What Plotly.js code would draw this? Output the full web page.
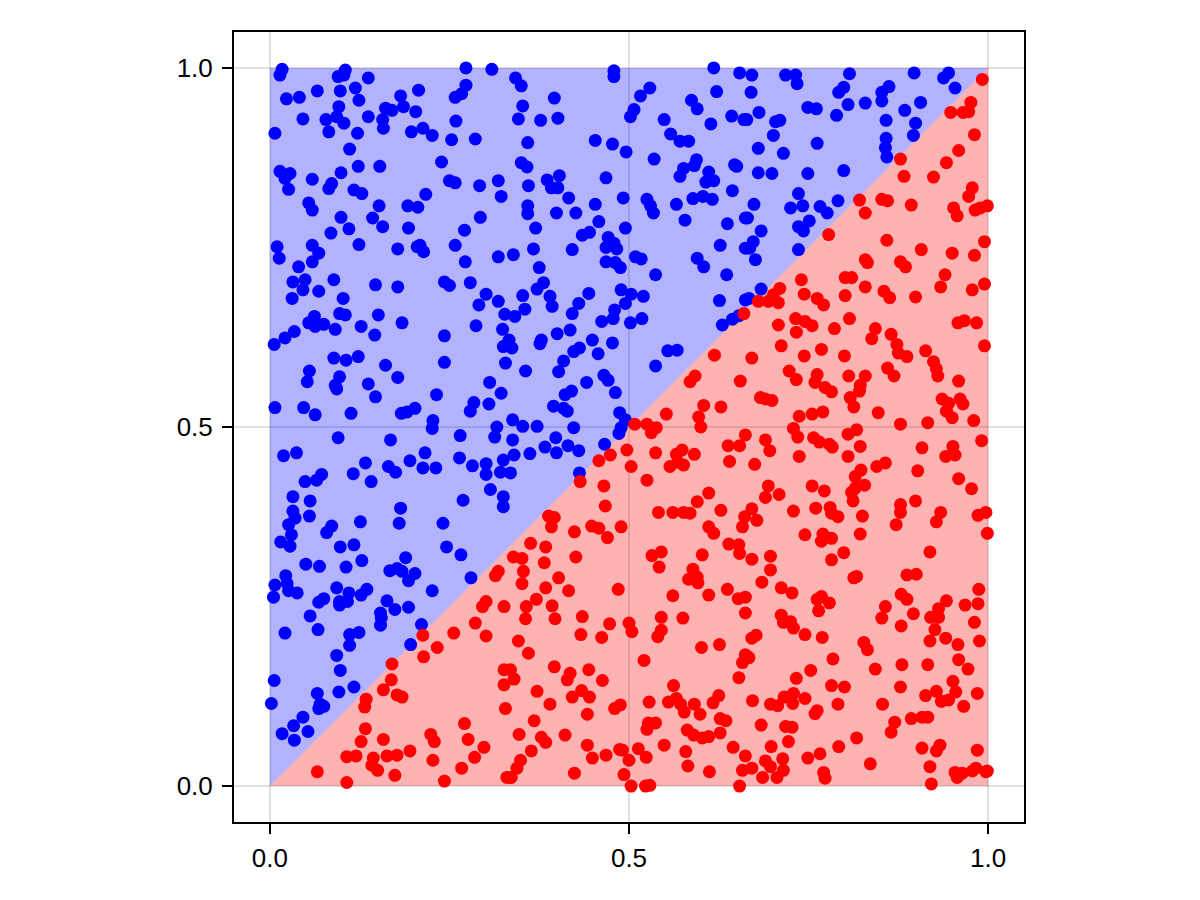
<!DOCTYPE html>
<html>
<head>
<meta charset="utf-8">
<script src="https://cdn.plot.ly/plotly-3.0.1.min.js"></script>
<style>html,body{margin:0;padding:0;background:#fff;}#chart{width:1200px;height:900px;}</style>
</head>
<body>
<div id="chart"></div>
<script>
// Regions (data coordinates of the two triangles)
const upperRegionX = [0, 0, 1];
const upperRegionY = [0, 1, 1];
const lowerRegionX = [0, 1, 1];
const lowerRegionY = [0, 0, 1];

// Tick values / labels
const tickVals = [0, 0.5, 1];
const tickText = ["0.0", "0.5", "1.0"];

// Points above the diagonal (blue)
const bluePts = [
[.017,.998],[.014,.990],[.105,.997],[.095,.988],[.103,.990],[.137,.986],[.273,1.0],[.309,.998],[.066,.968],[.098,.968],
[.119,.972],[.023,.957],[.041,.959],[.124,.955],[.182,.961],[.207,.969],[.273,.976],[.267,.964],[.258,.959],[.096,.946],
[.161,.944],[.170,.941],[.186,.946],[.203,.939],[.046,.929],[.078,.928],[.093,.932],[.103,.923],[.137,.932],[.157,.928],
[.158,.916],[.007,.909],[.082,.911],[.122,.909],[.197,.911],[.213,.916],[.226,.906],[.259,.926],[.253,.900],[.286,.901],
[.111,.887],[.239,.869],[.014,.856],[.028,.853],[.021,.846],[.026,.831],[.059,.845],[.099,.854],[.123,.863],[.153,.863],
[.086,.839],[.082,.832],[.117,.830],[.128,.825],[.250,.843],[.258,.840],[.292,.836],[.318,.843],[.322,.821],[.217,.824],
[.054,.812],[.059,.802],[.152,.808],[.192,.808],[.206,.806],[.099,.792],[.143,.791],[.157,.779],[.110,.776],[.193,.777],
[.293,.792],[.085,.770],[.271,.774],[.010,.751],[.013,.735],[.059,.753],[.068,.742],[.059,.730],[.124,.754],[.178,.748],
[.209,.753],[.214,.744],[.205,.751],[.258,.753],[.272,.730],[.318,.737],[.040,.723],[.032,.702],[.049,.705],[.046,.691],
[.068,.689],[.089,.705],[.147,.698],[.178,.695],[.243,.702],[.250,.697],[.279,.701],[.301,.685],[.031,.679],[.102,.679],
[.318,.675],[.291,.670],
[.479,.996],[.479,.988],[.618,1.0],[.654,.993],[.342,.986],[.350,.975],[.396,.958],[.352,.947],[.346,.929],[.377,.927],
[.401,.930],[.529,.972],[.516,.961],[.507,.942],[.502,.932],[.587,.955],[.595,.943],[.622,.967],[.643,.933],[.660,.928],
[.614,.922],[.549,.928],[.558,.908],[.571,.898],[.583,.898],[.359,.896],[.453,.899],[.477,.894],[.496,.883],[.535,.873],
[.350,.868],[.358,.862],[.571,.849],[.576,.860],[.591,.864],[.594,.872],[.611,.855],[.607,.841],[.618,.843],[.647,.865],
[.650,.863],[.644,.829],[.468,.847],[.403,.850],[.386,.844],[.392,.833],[.401,.833],[.360,.836],[.416,.819],[.359,.808],
[.359,.797],[.399,.798],[.426,.798],[.453,.810],[.492,.819],[.525,.817],[.530,.808],[.534,.798],[.566,.810],[.589,.818],
[.603,.821],[.616,.817],[.662,.791],[.637,.783],[.578,.788],[.458,.786],[.495,.777],[.370,.777],[.435,.767],[.445,.771],
[.471,.764],[.468,.750],[.479,.756],[.483,.748],[.421,.747],[.367,.748],[.339,.740],[.375,.722],[.468,.730],[.481,.729],
[.488,.722],[.509,.737],[.517,.734],[.537,.712],[.595,.735],[.604,.723],[.627,.753],[.636,.712],[.662,.749],[.381,.701],
[.372,.692],[.390,.682],[.352,.683],[.444,.686],[.489,.691],[.503,.685],[.520,.682],[.430,.672],[.495,.672],[.626,.676],
[.662,.677],
[.671,.990],[.718,.990],[.732,.990],[.734,.978],[.807,.992],[.897,.993],[.945,.993],[.938,.986],[.954,.972],[.670,.966],
[.792,.966],[.799,.973],[.862,.974],[.852,.966],[.852,.954],[.805,.949],[.829,.951],[.906,.952],[.884,.941],[.749,.945],
[.761,.943],[.789,.934],[.681,.938],[.664,.928],[.704,.925],[.710,.927],[.858,.927],[.899,.923],[.896,.906],[.701,.906],
[.762,.895],[.858,.902],[.857,.889],[.859,.876],[.680,.888],[.715,.881],[.680,.854],[.699,.853],[.749,.853],[.799,.857],
[.736,.825],[.725,.805],[.742,.808],[.766,.807],[.776,.798],[.791,.815],[.674,.810],[.665,.791],[.684,.773],[.673,.758],
[.668,.749],[.676,.733],[.736,.779],[.743,.773],[.751,.787],[.736,.747],[.684,.692],[.667,.679],
[.062,.654],[.054,.645],[.063,.640],[.075,.643],[.097,.658],[.105,.656],[.091,.636],[.034,.633],[.021,.624],[.006,.615],
[.127,.640],[.146,.628],[.151,.656],[.184,.645],[.243,.627],[.287,.641],[.327,.657],[.324,.636],[.325,.612],[.328,.589],
[.089,.596],[.106,.593],[.123,.598],[.161,.586],[.243,.590],[.055,.578],[.052,.563],[.097,.570],[.091,.558],[.093,.553],
[.137,.560],[.147,.542],[.178,.569],[.232,.545],[.306,.562],[.322,.547],[.007,.527],[.047,.527],[.063,.517],[.113,.519],
[.183,.519],[.191,.521],[.202,.526],[.227,.509],[.226,.498],[.284,.534],[.279,.522],[.305,.532],[.316,.500],[.313,.486],
[.095,.485],[.168,.482],[.265,.488],[.019,.460],[.037,.464],[.216,.464],[.195,.453],[.264,.457],[.133,.450],[.116,.435],
[.165,.445],[.175,.437],[.213,.443],[.231,.443],[.141,.424],[.282,.446],[.301,.449],[.301,.434],[.321,.437],[.325,.454],
[.072,.434],[.065,.426],[.049,.424],[.307,.413],[.325,.403],[.325,.389],[.032,.403],[.056,.397],[.032,.383],[.035,.373],
[.026,.364],[.055,.376],[.182,.387],[.269,.398],[.126,.368],[.180,.366],[.241,.366],[.086,.362],[.079,.353],[.030,.350],
[.015,.340],[.117,.336],[.098,.333],[.246,.333],
[.393,.668],[.421,.658],[.341,.654],[.355,.664],[.462,.647],[.478,.651],[.480,.663],[.502,.645],[.518,.651],[.630,.642],
[.644,.650],[.653,.655],[.333,.621],[.337,.610],[.378,.621],[.376,.616],[.400,.630],[.418,.635],[.449,.621],[.477,.617],
[.423,.605],[.431,.610],[.457,.602],[.409,.592],[.402,.577],[.356,.578],[.554,.606],[.567,.607],[.537,.585],[.465,.572],
[.471,.565],[.441,.562],[.481,.548],[.411,.545],[.420,.550],[.395,.529],[.409,.526],[.414,.522],[.487,.520],[.495,.510],
[.489,.499],[.486,.491],[.338,.510],[.352,.501],[.372,.501],[.423,.499],[.338,.482],[.398,.485],[.383,.472],[.399,.464],
[.415,.474],[.430,.467],[.466,.476],[.340,.461],[.362,.463],[.335,.436],[.431,.436],
[.028,.334],[.266,.322],[.050,.309],[.069,.306],[.106,.305],[.128,.314],[.189,.318],[.167,.300],[.177,.303],[.184,.299],
[.193,.286],[.202,.296],[.280,.290],[.022,.293],[.007,.280],[.024,.282],[.026,.272],[.038,.269],[.005,.263],[.093,.276],
[.068,.256],[.075,.261],[.097,.257],[.097,.252],[.110,.269],[.108,.257],[.127,.266],[.135,.274],[.163,.258],[.174,.246],
[.193,.249],[.226,.272],[.154,.241],[.155,.234],[.154,.224],[.056,.237],[.067,.218],[.021,.213],[.111,.211],[.124,.214],
[.111,.196],[.211,.225],[.196,.197],[.093,.182],[.098,.161],[.006,.147],[.066,.129],[.096,.131],[.117,.138],[.002,.115],
[.070,.114],[.075,.111],[.068,.108],[.046,.096],[.033,.084],[.017,.073],[.034,.064],[.053,.076]
];

// Points below the diagonal (red)
const redPts = [
[.992,.984],[.976,.952],[.948,.938],[.965,.938],[.973,.939],[.981,.907],[.959,.885],[.942,.868],[.878,.873],[.883,.849],
[.924,.848],[.978,.833],[.973,.821],[.821,.816],[.829,.798],[.852,.817],[.860,.815],[.893,.809],[.952,.805],[.957,.794],
[.982,.802],[.999,.808],[.989,.805],[.778,.768],[.859,.760],[.907,.747],[.950,.742],[.981,.739],[.995,.758],[.829,.733],
[.832,.729],[.878,.730],[.885,.723],[.740,.705],[.801,.708],[.810,.708],[.829,.695],[.940,.712],[.934,.695],[.995,.699],
[.978,.691],[.710,.693],[.701,.684],[.744,.685],[.762,.679],[.801,.683],[.855,.689],[.863,.680],[.899,.681],[.680,.675],
[.694,.675],[.708,.673],[.771,.670],
[.660,.658],[.619,.600],[.592,.571],[.585,.563],[.655,.564],[.604,.530],[.628,.528],[.552,.518],[.597,.514],[.600,.500],
[.508,.504],[.525,.504],[.531,.492],[.538,.499],[.497,.468],[.537,.464],[.566,.462],[.574,.468],[.591,.462],[.557,.445],
[.576,.447],[.568,.451],[.638,.474],[.654,.474],[.662,.489],[.640,.452],[.474,.461],[.458,.453],[.503,.445],[.525,.426],
[.432,.424],[.465,.418],[.611,.408],[.595,.396],[.628,.384],[.541,.381],[.561,.381],[.576,.381],[.585,.380],[.467,.390],
[.388,.376],[.396,.374],[.392,.361],[.424,.354],[.448,.362],[.458,.359],[.489,.361],[.470,.346],[.611,.361],[.618,.352],
[.661,.375],[.658,.361],[.363,.338],[.384,.333],[.639,.337],[.653,.336],
[.732,.651],[.745,.647],[.755,.641],[.807,.651],[.708,.642],[.733,.632],[.786,.637],[.843,.637],[.838,.623],[.865,.629],
[.873,.615],[.875,.603],[.887,.598],[.958,.645],[.967,.648],[.984,.645],[.995,.613],[.913,.606],[.924,.591],[.928,.581],
[.930,.571],[.959,.564],[.712,.613],[.671,.596],[.744,.599],[.768,.608],[.800,.599],[.723,.578],[.733,.566],[.762,.573],
[.759,.562],[.773,.555],[.782,.549],[.806,.571],[.829,.571],[.822,.558],[.821,.550],[.808,.541],[.813,.528],[.860,.582],
[.869,.571],[.683,.541],[.699,.537],[.690,.539],[.737,.515],[.755,.518],[.770,.521],[.847,.520],[.878,.504],[.916,.506],
[.936,.539],[.945,.533],[.961,.539],[.965,.532],[.942,.522],[.950,.513],[.980,.509],[.729,.498],[.735,.486],[.690,.482],
[.696,.467],[.757,.485],[.765,.479],[.779,.476],[.783,.472],[.805,.490],[.817,.496],[.822,.473],[.737,.459],[.805,.459],
[.675,.448],[.908,.471],[.951,.473],[.941,.459],[.954,.461],[.991,.481],[.845,.445],[.857,.450],[.823,.440],[.815,.431],
[.828,.419],[.815,.415],[.810,.409],[.812,.397],[.902,.439],[.959,.428],[.977,.414],[.755,.418],[.772,.411],[.694,.418],
[.690,.402],[.709,.406],[.899,.397],[.878,.392],[.878,.381],[.872,.364],[.934,.381],[.928,.368],[.986,.377],[.997,.381],
[.999,.352],[.671,.386],[.678,.370],[.729,.383],[.760,.387],[.780,.388],[.782,.380],[.791,.375],[.825,.376],[.745,.350],
[.770,.351],[.782,.345],[.768,.341],[.822,.351],
[.318,.299],[.314,.293],[.301,.257],[.296,.250],[.326,.250],[.286,.227],[.301,.209],[.256,.213],[.213,.210],[.233,.193],
[.214,.180],[.170,.170],[.169,.148],[.158,.134],[.177,.127],[.184,.124],[.134,.121],[.132,.110],[.326,.162],[.326,.141],
[.328,.108],[.133,.080],[.127,.062],[.158,.065],[.107,.041],[.120,.042],[.144,.039],[.142,.029],[.150,.022],[.163,.042],
[.177,.043],[.195,.049],[.174,.015],[.066,.020],[.107,.005],[.224,.072],[.229,.062],[.227,.036],[.243,.007],[.271,.087],
[.276,.065],[.298,.054],[.285,.040],[.267,.025],[.330,.012],
[.654,.324],[.339,.319],[.351,.317],[.426,.319],[.382,.311],[.353,.299],[.351,.282],[.402,.290],[.384,.276],[.416,.272],
[.485,.274],[.371,.260],[.357,.250],[.393,.251],[.356,.233],[.397,.233],[.435,.236],[.433,.211],[.462,.207],[.473,.226],
[.500,.227],[.504,.215],[.346,.202],[.360,.185],[.532,.321],[.545,.326],[.542,.305],[.602,.322],[.589,.302],[.583,.288],
[.595,.291],[.596,.283],[.611,.266],[.637,.274],[.652,.261],[.662,.263],[.561,.265],[.545,.235],[.575,.234],[.545,.217],
[.540,.208],[.662,.241],[.601,.193],[.626,.197],[.521,.175],[.662,.183],[.658,.172],[.653,.151],[.335,.162],[.340,.149],
[.396,.166],[.418,.157],[.414,.148],[.444,.162],[.463,.147],[.372,.132],[.421,.124],[.434,.133],[.445,.124],[.390,.114],
[.442,.100],[.480,.108],[.488,.113],[.368,.091],[.347,.072],[.378,.068],[.384,.061],[.411,.071],[.364,.049],[.349,.036],
[.344,.025],[.336,.012],[.442,.057],[.449,.039],[.468,.043],[.487,.051],[.491,.050],[.500,.036],[.424,.018],[.493,.016],
[.503,.000],[.513,.052],[.524,.040],[.523,.000],[.529,.001],[.562,.140],[.528,.117],[.555,.117],[.566,.122],[.572,.114],
[.577,.103],[.591,.114],[.599,.100],[.617,.116],[.625,.126],[.527,.088],[.525,.079],[.537,.088],[.627,.094],[.635,.091],
[.581,.078],[.590,.071],[.602,.067],[.611,.069],[.627,.074],[.549,.057],[.579,.048],[.582,.028],[.612,.020],[.645,.054],
[.662,.042],[.658,.022],[.654,.000],
[.671,.316],[.697,.320],[.697,.301],[.685,.284],[.712,.276],[.727,.269],[.782,.315],[.799,.325],[.813,.290],[.817,.292],
[.919,.326],[.887,.294],[.900,.295],[.762,.260],[.768,.264],[.779,.255],[.764,.244],[.712,.238],[.715,.228],[.725,.229],
[.729,.220],[.745,.211],[.769,.207],[.671,.206],[.677,.210],[.667,.179],[.879,.267],[.887,.260],[.857,.250],[.852,.234],
[.896,.240],[.879,.223],[.920,.235],[.931,.235],[.931,.247],[.942,.258],[.926,.218],[.919,.202],[.941,.206],[.958,.197],
[.968,.252],[.987,.274],[.986,.254],[.981,.228],[.988,.202],[.827,.200],[.832,.190],[.784,.177],[.843,.163],[.880,.169],
[.916,.169],[.959,.176],[.972,.163],[.951,.146],[.955,.131],[.928,.132],[.913,.126],[.935,.118],[.945,.120],[.966,.111],
[.985,.129],[.878,.138],[.853,.114],[.753,.161],[.733,.150],[.782,.140],[.800,.138],[.672,.119],[.697,.114],[.707,.112],
[.716,.124],[.729,.129],[.728,.115],[.745,.122],[.791,.114],[.762,.105],[.759,.101],[.684,.085],[.718,.083],[.727,.082],
[.722,.062],[.870,.089],[.865,.075],[.893,.094],[.908,.096],[.916,.096],[.817,.067],[.792,.055],[.698,.055],[.690,.035],
[.697,.027],[.714,.038],[.715,.022],[.671,.025],[.686,.012],[.706,.012],[.749,.039],[.766,.045],[.771,.019],[.773,.011],
[.836,.031],[.908,.053],[.928,.049],[.933,.057],[.919,.027],[.921,.003],[.985,.050],[.954,.019],[.957,.012],[.964,.018],
[.978,.021],[.983,.025],[.997,.020],[.999,.021]
];

const traces = [
  {x: upperRegionX, y: upperRegionY, type: 'scatter', mode: 'lines', fill: 'toself',
   fillcolor: 'rgba(0,0,255,0.3)', line: {width: 0, color: 'rgba(0,0,0,0)'}, hoverinfo: 'skip'},
  {x: lowerRegionX, y: lowerRegionY, type: 'scatter', mode: 'lines', fill: 'toself',
   fillcolor: 'rgba(255,0,0,0.3)', line: {width: 0, color: 'rgba(0,0,0,0)'}, hoverinfo: 'skip'},
  {x: bluePts.map(p => p[0]), y: bluePts.map(p => p[1]), type: 'scatter', mode: 'markers',
   marker: {color: 'rgb(0,0,255)', size: 13, line: {width: 0}}},
  {x: redPts.map(p => p[0]), y: redPts.map(p => p[1]), type: 'scatter', mode: 'markers',
   marker: {color: 'rgb(255,0,0)', size: 13, line: {width: 0}}}
];

const axisCommon = {
  range: [-0.05, 1.05], tickvals: tickVals, ticktext: tickText,
  ticks: 'outside', ticklen: 10, tickwidth: 2, tickcolor: '#000',
  showline: true, linecolor: '#000', linewidth: 2, mirror: true,
  showgrid: true, gridcolor: 'rgba(0,0,0,0.12)', gridwidth: 2,
  zeroline: false, fixedrange: true,
  tickfont: {family: 'Liberation Sans, Arial, sans-serif', size: 26, color: '#000'}
};

const layout = {
  width: 1200, height: 900,
  margin: {l: 234, r: 176, t: 32, b: 78, pad: 0},
  paper_bgcolor: '#fff', plot_bgcolor: '#fff',
  showlegend: false,
  xaxis: Object.assign({}, axisCommon, {ticklabelstandoff: 2}),
  yaxis: Object.assign({}, axisCommon, {ticklabelstandoff: 4})
};

Plotly.newPlot('chart', traces, layout, {displayModeBar: false, staticPlot: true});
</script>
</body>
</html>
